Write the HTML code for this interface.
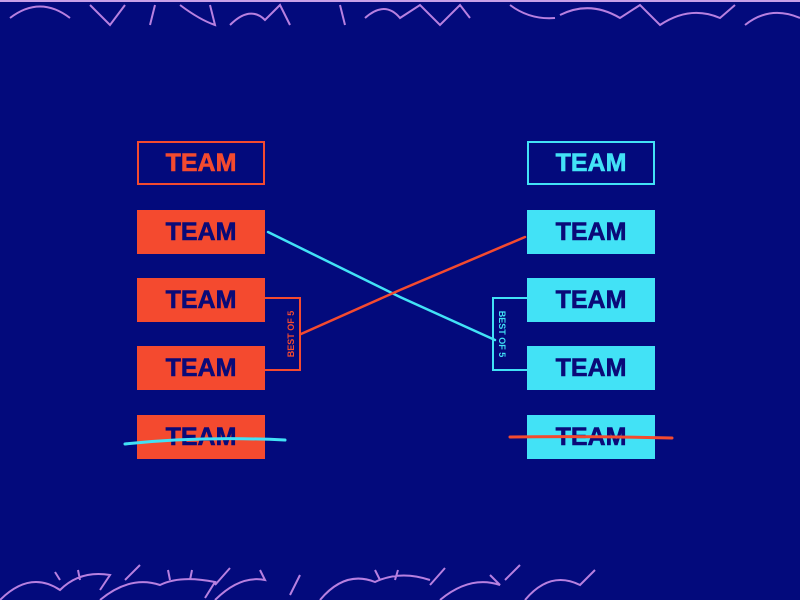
<!DOCTYPE html>
<html><head><style>
body{margin:0;width:800px;height:600px;background:#030a7c;overflow:hidden;position:relative;font-family:"Liberation Sans",sans-serif}
.b{position:absolute;width:128px;height:44px;display:flex;align-items:center;justify-content:center;font-weight:bold;font-size:25px;color:#0a0a78;box-sizing:border-box;-webkit-text-stroke:0.6px currentColor}
.r{background:#f44a2f}.c{background:#42e2f6}
svg{position:absolute;left:0;top:0}
</style></head><body>
<div class="b" style="left:137px;top:141px;border:2px solid #f44a2f;color:#f44a2f">TEAM</div>
<div class="b r" style="left:137px;top:210px">TEAM</div>
<div class="b r" style="left:137px;top:278px">TEAM</div>
<div class="b r" style="left:137px;top:346px">TEAM</div>
<div class="b r" style="left:137px;top:415px">TEAM</div>
<div class="b" style="left:527px;top:141px;border:2px solid #42e2f6;color:#42e2f6">TEAM</div>
<div class="b c" style="left:527px;top:210px">TEAM</div>
<div class="b c" style="left:527px;top:278px">TEAM</div>
<div class="b c" style="left:527px;top:346px">TEAM</div>
<div class="b c" style="left:527px;top:415px">TEAM</div>
<svg width="800" height="600">
<g fill="none" stroke="#b880e0" stroke-width="2">
<rect x="0" y="0" width="800" height="2" fill="#c8a0e8" stroke="none"/>
<path d="M10 18 Q40 -5 70 18 M90 5 L110 25 L125 5 M155 5 L150 25 M180 5 Q200 20 215 25 L210 5 M230 25 Q250 5 265 20 L280 5 L290 25 M340 5 L345 25 M365 18 Q385 0 400 18 L420 5 L440 25 L460 5 L470 18 M510 5 Q530 20 555 18 M560 15 Q590 0 620 18 L640 5 L660 25 Q690 5 720 18 L735 5 M745 25 Q770 5 800 18"/>
<path d="M0 600 Q30 570 60 590 Q80 570 110 575 L100 590 M60 580 L55 572 M80 580 L78 570 M125 580 L140 565 M100 600 Q130 575 160 585 Q180 575 215 582 L205 598 M170 580 L168 570 M190 580 L192 570 M215 585 L230 568 M215 600 Q240 575 265 580 L260 570 M290 595 L300 575 M320 600 Q345 570 375 582 Q400 570 430 580 M380 580 L375 570 M395 580 L398 570 M430 585 L445 568 M440 600 Q470 575 500 585 L490 575 M505 580 L520 565 M525 600 Q550 570 580 585 L595 570"/>
</g>
<g fill="none" stroke-width="2.5" stroke-linecap="round">
<path d="M268 232 L400 297 L495 340" stroke="#42e2f6"/>
<path d="M301 334 L400 290 L525 237" stroke="#f44a2f"/>
<path d="M265 298 L300 298 L300 370 L265 370" stroke="#f44a2f" stroke-width="2"/>
<path d="M527 298 L493 298 L493 370 L527 370" stroke="#42e2f6" stroke-width="2"/>
<path d="M125 444 Q200 436 285 440" stroke="#42e2f6" stroke-width="3"/>
<path d="M510 437 Q590 436 672 438" stroke="#f44a2f" stroke-width="3"/>
</g>
<text x="0" y="0" transform="translate(294 334) rotate(-90)" text-anchor="middle" font-family="Liberation Sans" font-weight="bold" font-size="9" fill="#f44a2f">BEST OF 5</text>
<text x="0" y="0" transform="translate(499 334) rotate(90)" text-anchor="middle" font-family="Liberation Sans" font-weight="bold" font-size="9" fill="#42e2f6">BEST OF 5</text>
</svg>
</body></html>
